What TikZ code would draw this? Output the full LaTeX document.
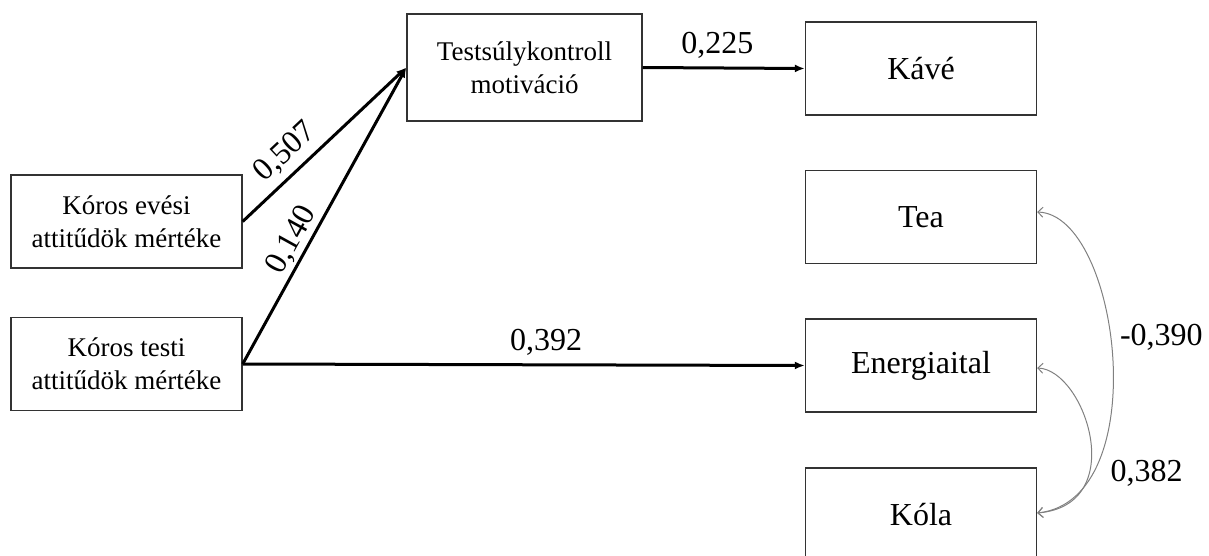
\documentclass[tikz,border=0pt]{standalone}
\usepackage{fontspec}
\setmainfont{Liberation Serif}
\usetikzlibrary{arrows.meta}

\begin{document}
\begin{tikzpicture}[x=0.5pt, y=-0.5pt,
    box/.style={draw=black!80, line width=0.7pt, minimum width=115.5pt, minimum height=46.5pt,
                inner sep=0pt, align=center, font=\fontsize{13.5}{16.5}\selectfont},
    bigbox/.style={box, font=\fontsize{16}{19}\selectfont},
    effect/.style={line width=1.5pt, -{Latex[length=5pt,width=4pt]}},
    corr/.style={draw=black!50, line width=0.5pt,
                 {Straight Barb[length=2.5pt,width=5pt]}-{Straight Barb[length=2.5pt,width=5pt]}},
    coef/.style={font=\fontsize{16}{19}\selectfont}]
    \clip (0,0) rectangle (1209,556);
    % predictors
    \node [box] (evesi) at (126.5,221.5) {Kóros evési\\attitűdök mértéke};
    \node [box] (testi) at (126.5,364) {Kóros testi\\attitűdök mértéke};
    \node [box, minimum width=117.5pt, minimum height=53.5pt] (motiv) at (524.5,67.5) {Testsúlykontroll\\motiváció};
    % outcomes
    \node [bigbox] (kave) at (921,68.5) {Kávé};
    \node [bigbox] (tea) at (921,217) {Tea};
    \node [bigbox] (energia) at (921,365.5) {Energiaital};
    \node [bigbox] (kola) at (921,514.5) {Kóla};

    \draw [effect] (evesi.east) -- node[coef, sloped, above, pos=0.35, inner sep=3.5pt] {0,507} (motiv.west);
    \draw [effect] (testi.east) -- node[coef, sloped, above, pos=0.39, inner sep=1pt] {0,140} (motiv.west);
    \draw [effect] (motiv.east) -- node[coef, above, pos=0.46, inner sep=4.2pt] {0,225} (kave.west);
    \draw [effect] (testi.east) -- node[coef, above, pos=0.54, inner sep=3.7pt] {0,392} (energia.west);

    \draw [corr] ([yshift=2.5pt]tea.east) .. controls +(83,3) and +(118,-13) .. ([yshift=0.75pt]kola.east)
        node[coef, pos=0.45, anchor=west, inner sep=4.5pt] {-0,390};
    \draw [corr] ([yshift=-1.25pt]energia.east) .. controls +(48,2) and +(93,-8) .. ([yshift=0.75pt]kola.east)
        node[coef, pos=0.67, anchor=west, inner sep=0pt, xshift=10.5pt] {0,382};
\end{tikzpicture}
\end{document}
